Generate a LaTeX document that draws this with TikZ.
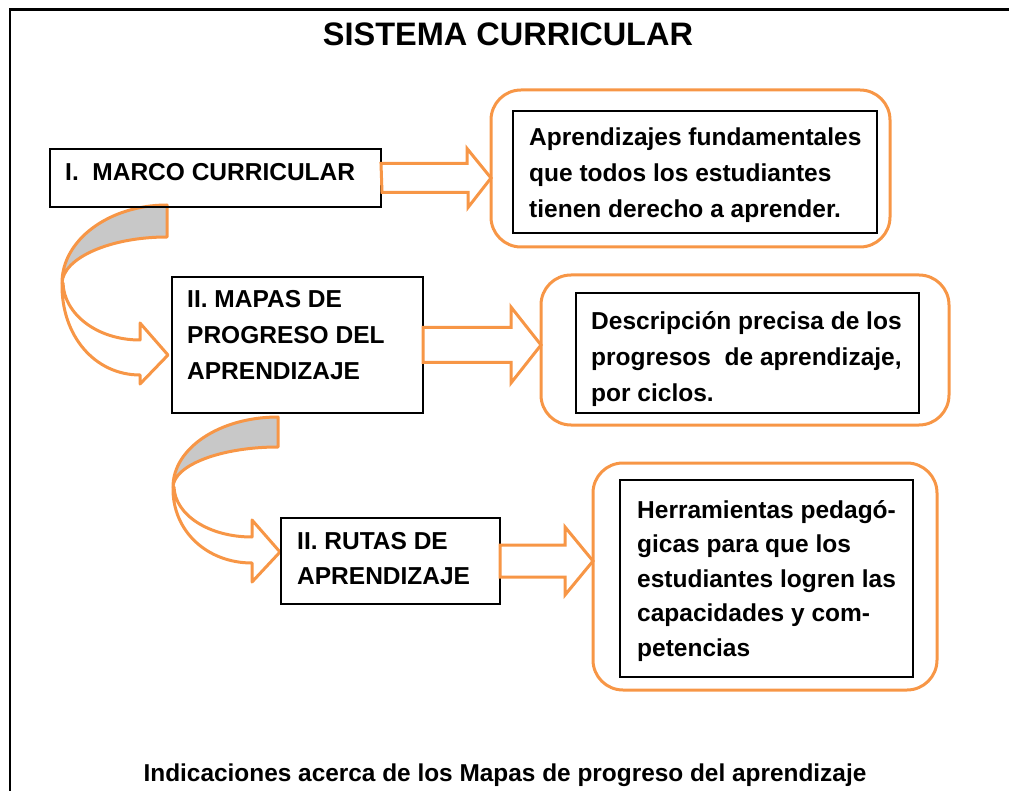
\documentclass[tikz,border=0pt]{standalone}
\usepackage{fontspec}
\setmainfont{Liberation Sans}
\usetikzlibrary{calc}
\definecolor{orng}{HTML}{F79646}
\definecolor{bandgray}{HTML}{C8C8C8}
\begin{document}
\begin{tikzpicture}[x=1pt,y=-1pt,
  blackbox/.style={draw=black, line width=1.5pt, inner sep=0pt, outer sep=0pt},
  orangebox/.style={draw=orng, line width=3pt, rounded corners=30pt, inner sep=0pt, outer sep=0pt},
  lbl/.style={anchor=north west, inner sep=0pt, align=left, font=\fontsize{24.5}{36}\selectfont\bfseries},
  blockarrow/.style={draw=orng, line width=3pt, fill=white, line join=miter},
  curvearrow/.style={draw=orng, line width=3pt, line join=round}]
\useasboundingbox (0,0) rectangle (1009,791);
% frame
\draw[line width=2.5pt] (10,791) -- (10,9.5) -- (1009,9.5);
% title
\node[font=\fontsize{32.5}{36}\selectfont\bfseries, inner sep=0pt] (title) at (508,34) {SISTEMA CURRICULAR};
% curved arrow 1
\draw[curvearrow, fill=bandgray] (167,205) .. controls (109,205) and (62,240) .. (62,283)
  .. controls (63,258) and (110,237) .. (167,237) -- cycle;
\draw[curvearrow, fill=white] (63,283) .. controls (64,314) and (97,340) .. (140,340)
  -- (140,323) -- (168,355) -- (140,384) -- (140,375)
  .. controls (95,375) and (61,336) .. (62,283) -- cycle;
% curved arrow 2
\draw[curvearrow, fill=bandgray] (278,417) .. controls (220,417) and (173,448) .. (173,487)
  .. controls (174,465) and (221,447) .. (278,447) -- cycle;
\draw[curvearrow, fill=white] (174,487) .. controls (175,515) and (209,537) .. (252,537)
  -- (252,520) -- (280,552) -- (252,582) -- (252,563)
  .. controls (207,563) and (172,531) .. (173,487) -- cycle;
% left boxes
\node[blackbox, minimum width=331pt, minimum height=58pt] (b1) at (215.5,178) {};
\node[blackbox, minimum width=251pt, minimum height=136pt] (b2) at (297.5,345) {};
\node[blackbox, minimum width=219pt, minimum height=86pt] (b3) at (390.5,561) {};
\node[lbl] (t1) at (65,163) {I.\ \ MARCO CURRICULAR};
\node[lbl] (t2) at (187,290) {II. MAPAS DE\\PROGRESO DEL\\APRENDIZAJE};
\node[lbl, font=\fontsize{24.5}{35}\selectfont\bfseries] (t3) at (297,532) {II. RUTAS DE\\APRENDIZAJE};
% right boxes
\node[orangebox, minimum width=399pt, minimum height=157pt] (o1) at (690.5,168.5) {};
\node[blackbox, minimum width=364pt, minimum height=122pt] (i1) at (695,172) {};
\node[orangebox, minimum width=408pt, minimum height=150pt] (o2) at (745,350) {};
\node[blackbox, minimum width=343pt, minimum height=120pt] (i2) at (747.5,353) {};
\node[orangebox, minimum width=344pt, minimum height=227pt] (o3) at (765,576.5) {};
\node[blackbox, minimum width=293pt, minimum height=197pt] (i3) at (766.5,578.5) {};
\node[lbl] (it1) at (529,128) {Aprendizajes fundamentales\\que todos los estudiantes\\tienen derecho a aprender.};
\node[lbl] (it2) at (591,311) {Descripción precisa de los\\progresos\ \ de aprendizaje,\\por ciclos.};
\node[lbl, font=\fontsize{24.5}{34.5}\selectfont\bfseries] (it3) at (637,500) {Herramientas pedagó-\\gicas para que los\\estudiantes logren las\\capacidades y com-\\petencias};
% block arrows
\draw[blockarrow] (b1.east) ++(0,-14.5) -- ++(86,0) -- ++(0,-15) -- (o1.west |- b1.east)
  -- ++(-23,29.5) -- ++(0,-15) -- ++(-86,0) -- cycle;
\draw[blockarrow] (b2.east) ++(0,-17.5) -- ++(88,0) -- ++(0,-20.5) -- (o2.west |- b2.east)
  -- ++(-30,38) -- ++(0,-20.5) -- ++(-88,0) -- cycle;
\draw[blockarrow] (b3.east) ++(0,-16) -- ++(65,0) -- ++(0,-18) -- (o3.west |- b3.east)
  -- ++(-28,34) -- ++(0,-18) -- ++(-65,0) -- cycle;
% caption
\node[font=\fontsize{24.4}{30}\selectfont\bfseries, inner sep=0pt, anchor=base] (cap) at (505,781) {Indicaciones acerca de los Mapas de progreso del aprendizaje};
\end{tikzpicture}
\end{document}
